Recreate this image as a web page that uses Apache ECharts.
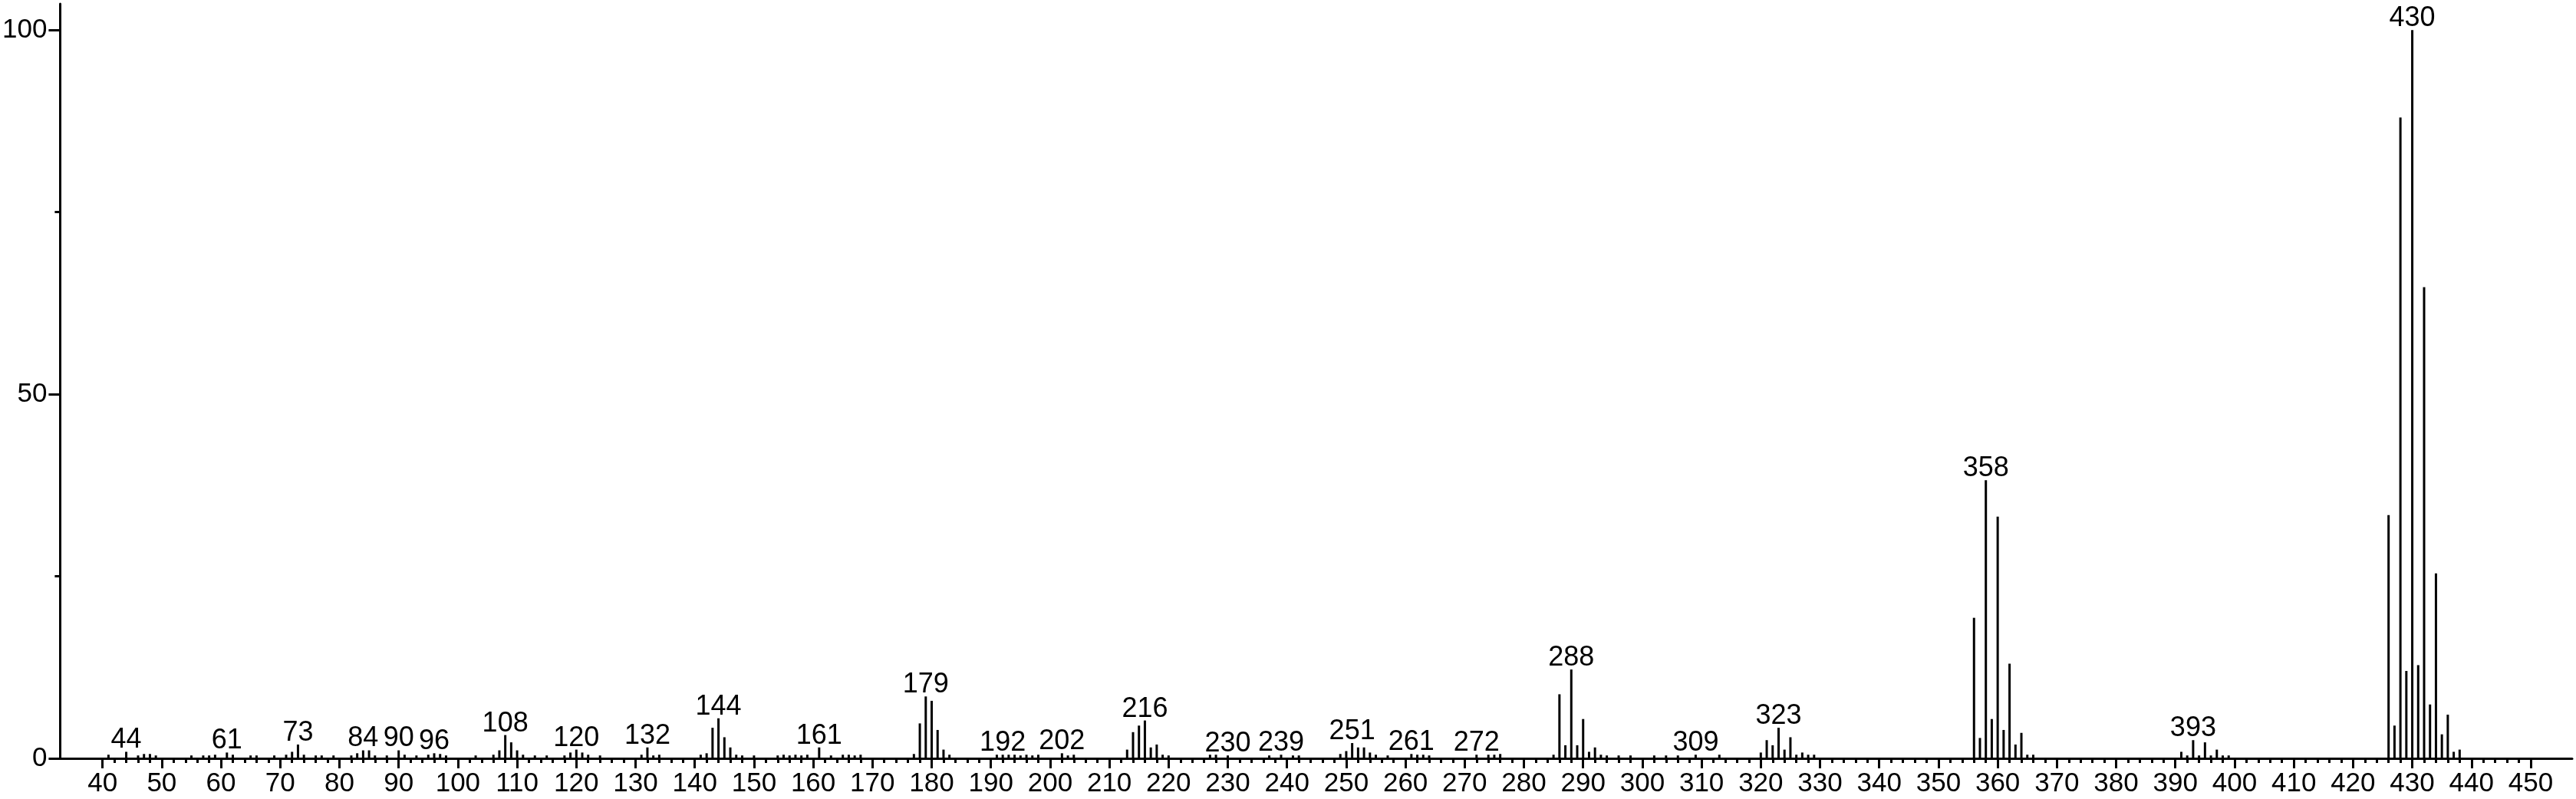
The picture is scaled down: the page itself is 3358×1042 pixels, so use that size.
<!DOCTYPE html>
<html><head><meta charset="utf-8">
<script src="https://cdn.jsdelivr.net/npm/echarts@6/dist/echarts.min.js"></script>
<style>html,body{margin:0;padding:0;background:#fff}#c{width:3358px;height:1042px}</style>
</head><body><div id="c"></div>
<script>
// m/z values and relative intensities (%)
const mz = [41,44,46,47,48,49,55,57,58,59,61,62,65,66,69,71,72,73,74,76,77,79,82,83,84,85,86,88,90,91,93,95,96,97,98,
103,106,107,108,109,110,111,113,115,118,119,120,121,122,124,131,132,133,134,141,142,143,144,145,146,147,148,150,
154,155,156,157,158,159,161,163,165,166,167,168,177,178,179,180,181,182,183,191,192,193,194,195,196,197,198,
202,203,204,213,214,215,216,217,218,219,220,227,228,230,237,239,241,242,249,250,251,252,253,254,255,257,
261,262,263,264,272,274,275,276,285,286,287,288,289,290,291,292,293,294,296,298,302,304,306,309,313,
320,321,322,323,324,325,326,327,328,329,356,357,358,359,360,361,362,363,364,365,366,
391,392,393,394,395,396,397,398,399,426,427,428,429,430,431,432,433,434,435,436,437,438];
const intensity = [0.5,0.9,0.4,0.6,0.6,0.4,0.4,0.4,0.4,0.5,0.8,0.5,0.4,0.4,0.4,0.5,0.9,1.9,0.5,0.4,0.4,0.4,0.4,0.7,1.1,1.1,0.4,0.4,1.1,0.5,0.4,0.5,0.7,0.6,0.4,
0.4,0.5,1.1,3.2,2.2,1.1,0.5,0.4,0.4,0.4,0.8,1.2,0.8,0.5,0.4,0.5,1.5,0.4,0.5,0.5,0.7,4.2,5.5,2.9,1.5,0.5,0.4,0.4,
0.4,0.5,0.4,0.5,0.4,0.5,1.5,0.4,0.5,0.5,0.4,0.5,0.6,4.8,8.5,7.9,3.9,1.2,0.5,0.5,0.5,0.5,0.5,0.4,0.5,0.4,0.5,
0.7,0.4,0.5,1.2,3.6,4.5,5.2,1.5,1.9,0.5,0.4,0.5,0.5,0.4,0.4,0.5,0.4,0.4,0.6,1.0,2.1,1.5,1.5,0.8,0.5,0.4,
0.6,0.5,0.5,0.4,0.5,0.5,0.5,0.6,0.5,8.8,1.8,12.2,1.8,5.4,0.9,1.5,0.5,0.4,0.4,0.4,0.4,0.4,0.4,0.5,0.5,
0.8,2.5,1.8,4.2,1.2,2.9,0.5,0.8,0.5,0.5,19.3,2.8,38.2,5.4,33.2,3.9,13.0,1.9,3.5,0.5,0.5,
0.9,0.4,2.5,0.4,2.2,0.4,1.2,0.4,0.4,33.4,4.5,88.0,12.0,100,12.8,64.7,7.4,25.4,3.3,6.0,0.9,1.2];
// peaks carrying an m/z annotation
const labeledPeaks = [44,61,73,84,90,96,108,120,132,144,161,179,192,202,216,230,239,251,261,272,288,309,323,358,393,430];
// axis ticks
const xTickLabels = [40,50,60,70,80,90,100,110,120,130,140,150,160,170,180,190,200,210,220,230,240,250,260,270,280,290,300,
310,320,330,340,350,360,370,380,390,400,410,420,430,440,450];
const yTickLabels = [0,50,100];
const yMinorTicks = [25,75];

const xMinorTicks = [];
for (let v = 42; v < 450; v += 2) if (v % 10 !== 0) xMinorTicks.push(v);

const FONT = "'Liberation Sans', Arial, sans-serif";
const X_MIN = 32.84, X_MAX = 457, Y_MAX = 103.6;

const data = mz.map((m, i) => {
  const item = { value: [m, intensity[i]] };
  if (labeledPeaks.includes(m)) {
    item.label = { show: true, position: 'top', distance: -3, formatter: String(m),
      fontSize: 36, color: '#000', fontFamily: FONT };
  }
  return item;
});

const chart = echarts.init(document.getElementById('c'), null, { renderer: 'canvas' });
chart.setOption({
  animation: false,
  backgroundColor: '#fff',
  grid: { left: 70, right: 5, top: 5, bottom: 53, containLabel: false },
  xAxis: [{
    type: 'value', min: X_MIN, max: X_MAX, position: 'bottom',
    axisLine: { show: true, onZero: false, lineStyle: { color: '#000', width: 3 } },
    axisTick: { show: true, customValues: xTickLabels, length: 13, lineStyle: { color: '#000', width: 3 } },
    axisLabel: { show: true, customValues: xTickLabels, fontSize: 35, color: '#000', fontFamily: FONT, margin: 16 },
    splitLine: { show: false }
  }, {
    type: 'value', min: X_MIN, max: X_MAX, position: 'bottom', offset: 0,
    axisLine: { show: false, onZero: false },
    axisTick: { show: true, customValues: xMinorTicks, length: 6, lineStyle: { color: '#000', width: 3 } },
    axisLabel: { show: false },
    splitLine: { show: false }
  }],
  yAxis: [{
    type: 'value', min: 0, max: Y_MAX, position: 'left',
    axisLine: { show: true, onZero: false, lineStyle: { color: '#000', width: 3 } },
    axisTick: { show: true, customValues: yTickLabels, length: 15, lineStyle: { color: '#000', width: 3 } },
    axisLabel: { show: true, customValues: yTickLabels, fontSize: 35, color: '#000', fontFamily: FONT, margin: 17 },
    splitLine: { show: false }
  }, {
    type: 'value', min: 0, max: Y_MAX, position: 'left', offset: 0,
    axisLine: { show: false, onZero: false },
    axisTick: { show: true, customValues: yMinorTicks, length: 7, lineStyle: { color: '#000', width: 3 } },
    axisLabel: { show: false },
    splitLine: { show: false }
  }],
  series: [{
    type: 'bar', xAxisIndex: 0, yAxisIndex: 0, barWidth: 3,
    itemStyle: { color: '#000' }, silent: true,
    data: data
  }]
});
</script>
</body></html>
